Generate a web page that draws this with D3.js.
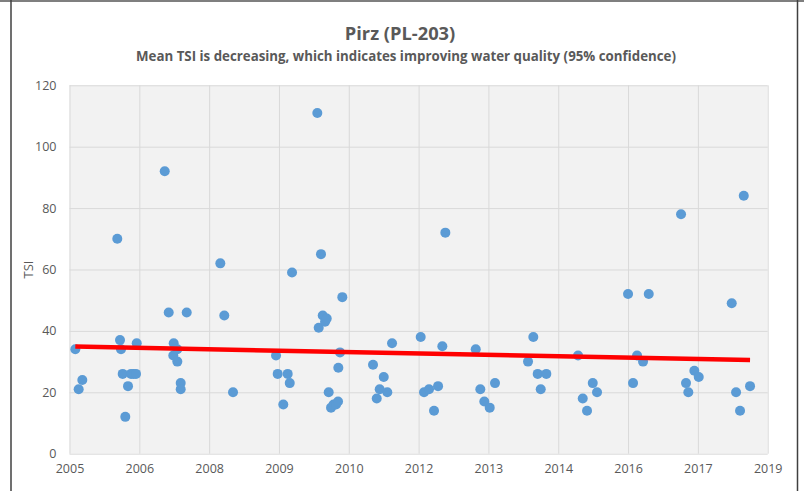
<!DOCTYPE html>
<meta charset="utf-8">
<style>
body {
    margin: 0;
    background-color: #FFFFFF;
}
text {
    font-family: 'Open Sans', sans-serif;
    fill: #595959;
}
.grid line {
    stroke: #D9D9D9;
    stroke-width: 1;
}
.grid path {
    stroke: none;
}
.axis path,
.axis line {
    stroke: none;
}
.axis text {
    font-size: 12.5px;
}
</style>
<div class="chart"></div>
<script src="https://d3js.org/d3.v7.min.js"></script>
<script>
    // sample dates as decimal years, TSI
    var sampleYears = [
        2005.517, 2005.583, 2005.654,
        2006.340, 2006.393, 2006.413, 2006.446, 2006.497, 2006.550, 2006.609, 2006.658, 2006.707, 2006.721,
        2007.270, 2007.348, 2007.438, 2007.446, 2007.517, 2007.517, 2007.583, 2007.583, 2007.701,
        2008.360, 2008.438, 2008.609,
        2009.452, 2009.485, 2009.595, 2009.681, 2009.721, 2009.766,
        2010.262, 2010.289, 2010.334, 2010.368, 2010.413, 2010.446, 2010.485, 2010.531, 2010.580, 2010.629,
        2010.668, 2010.674, 2010.707, 2010.752,
        2011.354, 2011.427, 2011.485, 2011.564, 2011.634, 2011.727,
        2012.289, 2012.354, 2012.452, 2012.550, 2012.629, 2012.713, 2012.772,
        2013.368, 2013.458, 2013.536, 2013.642, 2013.746,
        2014.393, 2014.497, 2014.583, 2014.642, 2014.752,
        2015.374, 2015.466, 2015.550, 2015.662, 2015.746,
        2016.354, 2016.452, 2016.531, 2016.648, 2016.760,
        2017.393, 2017.491, 2017.536, 2017.654, 2017.740,
        2018.387, 2018.472, 2018.550, 2018.623, 2018.746
    ];
    var tsiValues = [
        34, 21, 24,
        70, 37, 34, 26, 12, 22, 26, 26, 26, 36,
        92, 46, 32, 36, 34, 30, 23, 21, 46,
        62, 45, 20,
        32, 26, 16, 26, 23, 59,
        111, 41, 65, 45, 43, 44, 20, 15, 16, 16,
        17, 28, 33, 51,
        29, 18, 21, 25, 20, 36,
        38, 20, 21, 14, 22, 35, 72,
        34, 21, 17, 15, 23,
        30, 38, 26, 21, 26,
        32, 18, 14, 23, 20,
        52, 23, 32, 30, 52,
        78, 23, 20, 27, 25,
        49, 20, 14, 84, 22
    ];
    // linear trend, value at first and last sample
    var trendValues = [34.9, 30.5];

    // excel date axis: starts 2005-05-28, major unit 500 days
    var axisStart = 2005.403;
    var tickStep = 500 / 365.25;
    var xTickLabels = ["2005", "2006", "2008", "2009", "2010", "2012", "2013", "2014", "2016", "2017", "2019"];
    var yTicks = [0, 20, 40, 60, 80, 100, 120];

    var title = "Pirz (PL-203)";
    var subtitle = "Mean TSI is decreasing, which indicates improving water quality (95% confidence)";

    var margin = { top: 85.3, right: 36.3, bottom: 37.3, left: 69.5 };
    var width = 804 - margin.left - margin.right;
    var height = 491 - margin.top - margin.bottom;

    var root = d3.select(".chart")
        .append("svg")
        .attr("width", 804)
        .attr("height", 491);

    // frame of the chart box
    root.append("line")
        .attr("x1", 0).attr("x2", 804)
        .attr("y1", 1).attr("y2", 1)
        .style("stroke", "#7F7F7F")
        .style("stroke-width", 2);
    root.append("line")
        .attr("x1", 11).attr("x2", 11)
        .attr("y1", 0).attr("y2", 491)
        .style("stroke", "#404040")
        .style("stroke-width", 1.5);
    root.append("line")
        .attr("x1", 797.5).attr("x2", 797.5)
        .attr("y1", 0).attr("y2", 491)
        .style("stroke", "#404040")
        .style("stroke-width", 1.5);

    root.append("text")
        .attr("text-anchor", "middle")
        .attr("x", 400)
        .attr("y", 40)
        .style("font-weight", "bold")
        .style("font-size", "18.3px")
        .text(title);

    root.append("text")
        .attr("text-anchor", "middle")
        .attr("x", 406)
        .attr("y", 61)
        .style("font-weight", "bold")
        .style("font-size", "13.3px")
        .text(subtitle);

    var svg = root.append("g")
        .attr("transform", "translate(" + margin.left + "," + margin.top + ")");

    var xTicks = xTickLabels.map(function (d, i) { return axisStart + i * tickStep; });

    var x = d3.scaleLinear()
        .domain([axisStart, xTicks[xTicks.length - 1]])
        .range([0, width]);
    var y = d3.scaleLinear()
        .domain([0, 120])
        .range([height, 0]);

    svg.append("rect")
        .attr("width", width)
        .attr("height", height)
        .style("fill", "#F2F2F2");

    svg.append("g")
        .attr("class", "grid")
        .call(d3.axisLeft(y).tickValues(yTicks).tickSize(-width).tickFormat(""));
    svg.append("g")
        .attr("class", "grid")
        .attr("transform", "translate(0," + height + ")")
        .call(d3.axisBottom(x).tickValues(xTicks).tickSize(height).tickFormat(""))
        .selectAll("line")
            .attr("y2", -height);

    svg.append("g")
        .attr("class", "y axis")
        .call(d3.axisLeft(y).tickValues(yTicks).tickSize(0).tickPadding(13));

    svg.append("g")
        .attr("class", "x axis")
        .attr("transform", "translate(0," + height + ")")
        .call(d3.axisBottom(x).tickValues(xTicks).tickSize(0).tickPadding(10)
            .tickFormat(function (d, i) { return xTickLabels[i]; }));

    svg.append("text")
        .attr("transform", "translate(" + (-37) + "," + (height / 2) + ") rotate(-90)")
        .attr("text-anchor", "middle")
        .style("font-size", "13px")
        .text("TSI");

    var points = sampleYears.map(function (d, i) { return { year: d, tsi: tsiValues[i] }; });

    svg.selectAll(".dot")
        .data(points)
        .enter()
        .append("circle")
        .attr("class", "dot")
        .attr("cx", function (d) { return x(d.year); })
        .attr("cy", function (d) { return y(d.tsi); })
        .attr("r", 5)
        .style("fill", "#5B9BD5");

    var trend = [
        { year: sampleYears[0], tsi: trendValues[0] },
        { year: sampleYears[sampleYears.length - 1], tsi: trendValues[1] }
    ];

    svg.append("path")
        .datum(trend)
        .attr("d", d3.line()
            .x(function (d) { return x(d.year); })
            .y(function (d) { return y(d.tsi); }))
        .style("fill", "none")
        .style("stroke", "#FF0000")
        .style("stroke-width", 4.5);
</script>
